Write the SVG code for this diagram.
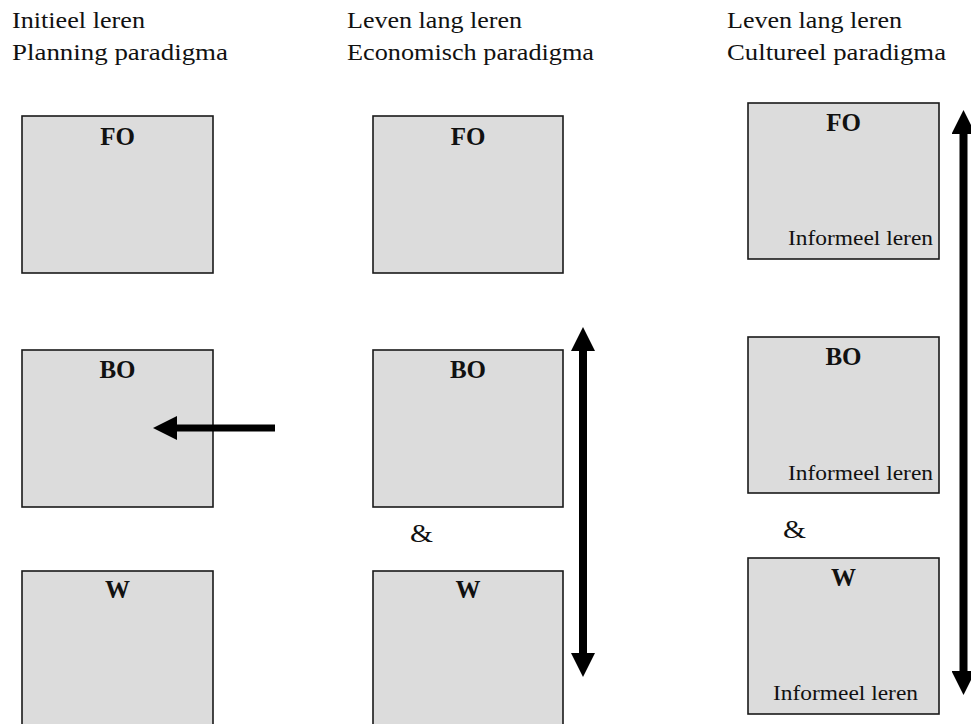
<svg xmlns="http://www.w3.org/2000/svg" width="971" height="724" viewBox="0 0 971 724">
  <style>
    .box { fill: #dcdcdc; stroke: #1a1a1a; stroke-width: 1.6; }
    .hdr { font-family: "Liberation Serif", "Times New Roman", serif; font-size: 23px; fill: #111; }
    .lbl { font-family: "Liberation Serif", "Times New Roman", serif; font-size: 25px; font-weight: bold; fill: #111; text-anchor: middle; }
    .inf { font-family: "Liberation Serif", "Times New Roman", serif; font-size: 21px; fill: #111; }
    .amp { font-family: "Liberation Serif", "Times New Roman", serif; font-size: 25px; fill: #111; }
    .conn { fill: none; stroke: #000; stroke-linecap: butt; }
  </style>
  <defs>
    <marker id="head" markerUnits="userSpaceOnUse" markerWidth="24" markerHeight="24" viewBox="0 0 24 24" refX="0" refY="12" orient="auto-start-reverse">
      <path d="M0,0 L24,12 L0,24 z" fill="#000"/>
    </marker>
  </defs>
  <rect x="0" y="0" width="971" height="724" fill="#fff"/>

  <!-- headers -->
  <g id="headers">
    <text class="hdr" x="12" y="28" textLength="133" lengthAdjust="spacingAndGlyphs">Initieel leren</text>
    <text class="hdr" x="12" y="60" textLength="216" lengthAdjust="spacingAndGlyphs">Planning paradigma</text>
    <text class="hdr" x="347" y="28" textLength="175" lengthAdjust="spacingAndGlyphs">Leven lang leren</text>
    <text class="hdr" x="347" y="60" textLength="247" lengthAdjust="spacingAndGlyphs">Economisch paradigma</text>
    <text class="hdr" x="727" y="28" textLength="175" lengthAdjust="spacingAndGlyphs">Leven lang leren</text>
    <text class="hdr" x="727" y="60" textLength="219" lengthAdjust="spacingAndGlyphs">Cultureel paradigma</text>
  </g>

  <!-- column 1 -->
  <g id="c1-fo">
    <rect class="box" x="22" y="116" width="191" height="157"/>
    <text class="lbl" x="117.5" y="145">FO</text>
  </g>
  <g id="c1-bo">
    <rect class="box" x="22" y="350" width="191" height="157"/>
    <text class="lbl" x="117.5" y="378">BO</text>
  </g>
  <g id="c1-w">
    <rect class="box" x="22" y="571" width="191" height="170"/>
    <text class="lbl" x="117.5" y="598">W</text>
  </g>

  <!-- column 2 -->
  <g id="c2-fo">
    <rect class="box" x="373" y="116" width="190" height="157"/>
    <text class="lbl" x="468" y="145">FO</text>
  </g>
  <g id="c2-bo">
    <rect class="box" x="373" y="350" width="190" height="157"/>
    <text class="lbl" x="468" y="378">BO</text>
  </g>
  <g id="c2-w">
    <rect class="box" x="373" y="571" width="190" height="170"/>
    <text class="lbl" x="468" y="598">W</text>
  </g>
  <text class="amp" x="410" y="542" textLength="23" lengthAdjust="spacingAndGlyphs">&amp;</text>

  <!-- column 3 -->
  <g id="c3-fo">
    <rect class="box" x="748" y="103" width="191" height="156"/>
    <text class="lbl" x="843.5" y="131">FO</text>
    <text class="inf" x="788" y="245" textLength="145" lengthAdjust="spacingAndGlyphs">Informeel leren</text>
  </g>
  <g id="c3-bo">
    <rect class="box" x="748" y="337" width="191" height="156"/>
    <text class="lbl" x="843.5" y="365">BO</text>
    <text class="inf" x="788" y="480" textLength="145" lengthAdjust="spacingAndGlyphs">Informeel leren</text>
  </g>
  <g id="c3-w">
    <rect class="box" x="748" y="558" width="191" height="156"/>
    <text class="lbl" x="843.5" y="586">W</text>
    <text class="inf" x="773" y="700" textLength="145" lengthAdjust="spacingAndGlyphs">Informeel leren</text>
  </g>
  <text class="amp" x="783" y="538" textLength="23" lengthAdjust="spacingAndGlyphs">&amp;</text>

  <!-- connectors -->
  <g id="connectors">
    <path class="conn" d="M275,428 L177,428" stroke-width="7" marker-end="url(#head)"/>
    <path class="conn" d="M583,351 L583,653" stroke-width="8" marker-start="url(#head)" marker-end="url(#head)"/>
    <path class="conn" d="M963.5,134 L963.5,671" stroke-width="8" marker-start="url(#head)" marker-end="url(#head)"/>
  </g>
</svg>
